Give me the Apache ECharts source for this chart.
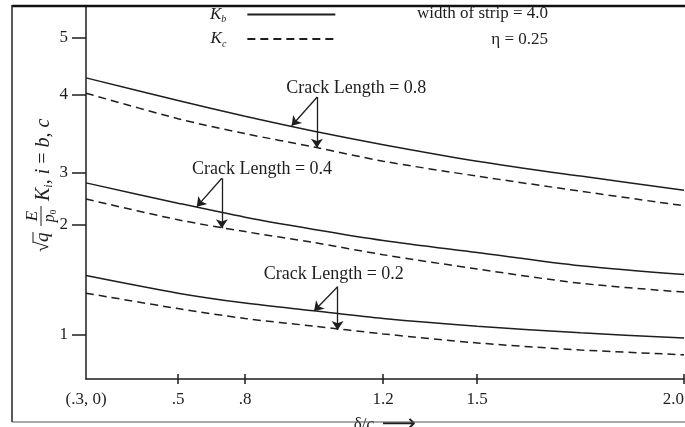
<!DOCTYPE html>
<html><head><meta charset="utf-8">
<script src="https://cdn.jsdelivr.net/npm/echarts@6/dist/echarts.min.js"></script>
<style>html,body{margin:0;padding:0;background:#fff}#c{width:685px;height:427px}</style>
</head><body><div id="c"></div>
<script>
// ---------- data ----------
const deltaC = [0.3, 0.5, 0.8, 1.0, 1.2, 1.5, 1.75, 2.0];
const kb08 = [4.29, 3.92, 3.72, 3.53, 3.36, 3.15, 2.94, 2.67];
const kc08 = [4.02, 3.69, 3.50, 3.33, 3.15, 2.94, 2.65, 2.37];
const kb04 = [2.81, 2.42, 2.15, 1.96, 1.86, 1.75, 1.63, 1.55];
const kc04 = [2.50, 2.10, 1.94, 1.84, 1.73, 1.60, 1.47, 1.39];
const kb02 = [1.54, 1.38, 1.29, 1.22, 1.15, 1.08, 1.02, 0.93];
const kc02 = [1.38, 1.24, 1.15, 1.08, 1.01, 0.82, 0.66, 0.55];

const xTickValues = [0.3, 0.5, 0.8, 1.2, 1.5, 2.0];
const xTickLabels = ['(.3, 0)', '.5', '.8', '1.2', '1.5', '2.0'];
const yTickValues = [0, 1, 2, 3, 4, 5];
const yTickLabels = ['', '1', '2', '3', '4', '5'];

const crackLabels = ['Crack Length = 0.8', 'Crack Length = 0.4', 'Crack Length = 0.2'];
// annotation anchors in data units (δ/c, K): label centre, arrow origin, tip on K_b, tip on K_c
const labelAt   = [[1.122, 4.111], [0.849, 3.051], [1.057, 1.555]];
const arrowFrom = [[1.009, 3.966], [0.696, 2.898], [1.068, 1.439]];
const arrowToKb = [[0.935, 3.60], [0.584, 2.352], [1.000, 1.218]];
const arrowToKc = [[1.008, 3.32], [0.696, 1.97], [1.068, 1.045]];

// ---------- axis scales: the printed axes are not uniformly spaced ----------
const xTickStops = [0, 0.1539, 0.2660, 0.4969, 0.6542, 1];
const yTickStops = [0, 0.1180, 0.4129, 0.5523, 0.7633, 0.9150];
function piecewise(v, vals, stops) {
  let i = 0;
  while (i < vals.length - 2 && v > vals[i + 1]) i++;
  const t = (v - vals[i]) / (vals[i + 1] - vals[i]);
  return stops[i] + t * (stops[i + 1] - stops[i]);
}
const tx = v => piecewise(v, xTickValues, xTickStops);
const ty = v => piecewise(v, yTickValues, yTickStops);
const pt = p => [tx(p[0]), ty(p[1])];
function labelFor(val, vals, labels, f) {
  for (let i = 0; i < vals.length; i++) if (Math.abs(f(vals[i]) - val) < 1e-6) return labels[i];
  return '';
}

const FONT = 'Liberation Serif';
const INK = '#1e1e1e';
const grid = { left: 86, right: 1, top: 6, bottom: 48, containLabel: false, outerBoundsMode: 'none' };

function curve(name, ys, dashed) {
  return {
    type: 'line', name: name, xAxisIndex: 0, yAxisIndex: 0,
    data: deltaC.map((x, i) => [tx(x), ty(ys[i])]),
    smooth: 0.3, symbol: 'none', showSymbol: false, silent: true,
    lineStyle: { color: INK, width: 1.5, type: dashed ? [8, 5] : 'solid' },
    itemStyle: { color: INK }
  };
}

const arrowLines = [];
for (let i = 0; i < arrowFrom.length; i++) {
  arrowLines.push([{ coord: pt(arrowFrom[i]) }, { coord: pt(arrowToKb[i]) }]);
  arrowLines.push([{ coord: pt(arrowFrom[i]) }, { coord: pt(arrowToKc[i]) }]);
}

const option = {
  animation: false,
  backgroundColor: '#fff',
  grid: [Object.assign({}, grid), Object.assign({}, grid)],
  xAxis: [{
    type: 'value', gridIndex: 0, min: 0, max: 1,
    axisLine: { show: true, lineStyle: { color: INK, width: 1.5 } },
    axisTick: { show: true, length: 5, customValues: xTickValues.slice(1).map(tx), lineStyle: { color: INK, width: 1.5 } },
    axisLabel: {
      customValues: xTickValues.map(tx), margin: 12, fontFamily: FONT, fontSize: 17, color: INK,
      alignMaxLabel: 'right',
      formatter: v => labelFor(v, xTickValues, xTickLabels, tx)
    },
    splitLine: { show: false },
    name: '{d|δ/}{c|c}{a| ⟶}', nameLocation: 'middle', nameGap: 32,
    nameTextStyle: { rich: {
      d: { fontFamily: FONT, fontSize: 17, color: INK },
      c: { fontFamily: FONT, fontSize: 17, fontStyle: 'italic', color: INK },
      a: { fontFamily: 'DejaVu Sans', fontSize: 24, color: INK }
    } }
  }, {
    type: 'value', gridIndex: 1, min: 0, max: 1, position: 'bottom',
    axisLine: { show: false },
    axisTick: { show: true, inside: true, length: 5, customValues: xTickValues.slice(1).map(tx), lineStyle: { color: INK, width: 1.5 } },
    axisLabel: { show: false }, splitLine: { show: false }
  }],
  yAxis: [{
    type: 'value', gridIndex: 0, min: 0, max: 1,
    axisLine: { show: true, lineStyle: { color: INK, width: 1.5 } },
    axisTick: { show: true, length: 14, customValues: yTickValues.slice(1).map(ty), lineStyle: { color: INK, width: 1.5 } },
    axisLabel: {
      customValues: yTickValues.slice(1).map(ty), margin: 18, fontFamily: FONT, fontSize: 17, color: INK,
      formatter: v => labelFor(v, yTickValues, yTickLabels, ty)
    },
    splitLine: { show: false }
  }, {
    type: 'value', gridIndex: 1, min: 0, max: 1, show: false
  }],
  legend: {
    data: ['K_b', 'K_c'], orient: 'vertical', left: 210, top: 6, padding: 0,
    itemGap: 6, itemWidth: 88, itemHeight: 12, align: 'right', selectedMode: false,
    itemStyle: { color: 'rgba(0,0,0,0)', borderWidth: 0 },
    formatter: n => '{k|K}{s|' + n.slice(2) + '}',
    textStyle: {
      padding: [0, 16, 0, 0],
      rich: {
        k: { fontFamily: FONT, fontStyle: 'italic', fontSize: 17, color: INK, lineHeight: 20 },
        s: { fontFamily: FONT, fontStyle: 'italic', fontSize: 10, color: INK, lineHeight: 20, verticalAlign: 'bottom' }
      }
    }
  },
  series: [
    curve('K_b', kb08, false), curve('K_c', kc08, true),
    curve('K_b', kb04, false), curve('K_c', kc04, true),
    curve('K_b', kb02, false), curve('K_c', kc02, true),
    {
      type: 'line', name: 'notes', xAxisIndex: 0, yAxisIndex: 0, data: [], silent: true,
      markLine: {
        silent: true, symbol: ['none', 'arrow'], symbolSize: 9,
        label: { show: false },
        lineStyle: { color: INK, width: 1.3, type: 'solid' },
        emphasis: { disabled: true },
        data: arrowLines
      },
      markPoint: {
        silent: true, symbol: 'circle', symbolSize: 1,
        itemStyle: { color: 'rgba(0,0,0,0)' },
        label: { show: true, position: 'inside', formatter: p => p.name,
          fontFamily: FONT, fontSize: 18, color: INK },
        data: labelAt.map((p, i) => ({ name: crackLabels[i], coord: pt(p) }))
      }
    }
  ],
  graphic: [
    { type: 'text', right: 137, top: 5, style: { text: 'width of strip = 4.0', fontFamily: FONT, fontSize: 17, fill: INK } },
    { type: 'text', right: 137, top: 31, style: { text: 'η = 0.25', fontFamily: FONT, fontSize: 17, fill: INK } },
    // rotated y-axis title
    { type: 'group', x: 42, y: 182, rotation: Math.PI / 2, children: [
      { type: 'text', x: -70, y: 1, style: { text: '√', fontFamily: FONT, fontSize: 19, fill: INK, verticalAlign: 'middle' } },
      { type: 'text', x: -60, y: 1, style: { text: 'q', fontFamily: FONT, fontStyle: 'italic', fontSize: 19, fill: INK, verticalAlign: 'middle' } },
      { type: 'line', shape: { x1: -61, y1: -9, x2: -50, y2: -9 }, style: { stroke: INK, lineWidth: 1 } },
      { type: 'text', x: -34, y: -9, style: { text: 'E', fontFamily: FONT, fontStyle: 'italic', fontSize: 17, fill: INK, align: 'center', verticalAlign: 'middle' } },
      { type: 'line', shape: { x1: -44, y1: -1, x2: -24, y2: -1 }, style: { stroke: INK, lineWidth: 1 } },
      { type: 'text', x: -34, y: 8, style: { text: '{p|p}{z|0}', fontFamily: FONT, fill: INK, align: 'center', verticalAlign: 'middle',
        rich: { p: { fontFamily: FONT, fontStyle: 'italic', fontSize: 16, lineHeight: 17 }, z: { fontFamily: FONT, fontSize: 9, lineHeight: 17, verticalAlign: 'bottom' } } } },
      { type: 'text', x: -19, y: 2, style: { text: '{k|K}{s|i}{n|, }{k|i}{n| = }{k|b}{n|, }{k|c}', verticalAlign: 'middle', fill: INK,
        rich: {
          k: { fontFamily: FONT, fontStyle: 'italic', fontSize: 20, lineHeight: 22 },
          s: { fontFamily: FONT, fontStyle: 'italic', fontSize: 12, lineHeight: 22, verticalAlign: 'bottom' },
          n: { fontFamily: FONT, fontSize: 20, lineHeight: 22 }
        } } }
    ] },
    // figure frame
    { type: 'line', z: 50, shape: { x1: 12, y1: 6, x2: 685, y2: 6 }, style: { stroke: '#111', lineWidth: 2.5 } },
    { type: 'line', z: 50, shape: { x1: 12, y1: 5, x2: 12, y2: 422 }, style: { stroke: '#222', lineWidth: 1.5 } },
    { type: 'line', z: 50, shape: { x1: 12, y1: 422, x2: 685, y2: 422 }, style: { stroke: '#555', lineWidth: 1.2 } }
  ]
};

const chart = echarts.init(document.getElementById('c'), null, { renderer: 'canvas' });
chart.setOption(option);
</script>
</body></html>
